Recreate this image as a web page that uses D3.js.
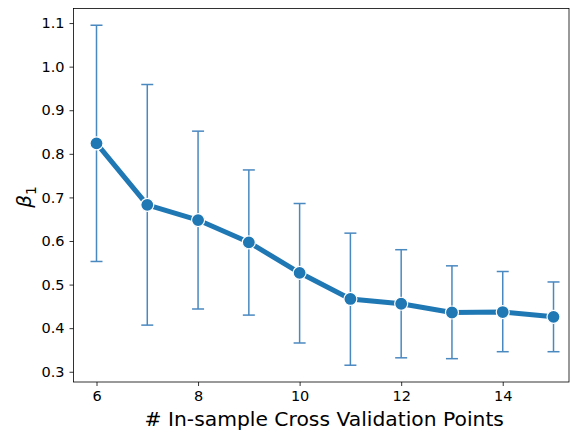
<!DOCTYPE html>
<html>
<head>
<meta charset="utf-8">
<script src="https://cdn.jsdelivr.net/npm/d3@7"></script>
<style>
  body { margin: 0; background: #fff; }
  svg { font-family: "DejaVu Sans", sans-serif; }
</style>
</head>
<body>
<svg id="chart" width="571" height="433"></svg>
<script>
// number of in-sample CV points
let points = [6, 7, 8, 9, 10, 11, 12, 13, 14, 15];
let beta = [0.824, 0.683, 0.648, 0.597, 0.527, 0.467, 0.456, 0.436, 0.437, 0.426];
let upper = [1.095, 0.959, 0.852, 0.763, 0.686, 0.618, 0.580, 0.543, 0.530, 0.506];
let lower = [0.553, 0.407, 0.444, 0.430, 0.366, 0.315, 0.332, 0.330, 0.346, 0.346];
let xTicks = [6, 8, 10, 12, 14];
let yTicks = [0.3, 0.4, 0.5, 0.6, 0.7, 0.8, 0.9, 1.0, 1.1];

let data = points.map((p, i) => ({ x: p, y: beta[i], lo: lower[i], hi: upper[i] }));

let margin = { top: 8.5, left: 73.5, right: 2, bottom: 51 };
let width = 571, height = 433;
let svg = d3.select("#chart");

let xScale = d3.scaleLinear().domain([5.547, 15.305])
  .range([margin.left, width - margin.right]);
let yScale = d3.scaleLinear().domain([0.2765, 1.1334])
  .range([height - margin.bottom, margin.top]);

// axes
let xAxis = d3.axisBottom(xScale).tickValues(xTicks).tickSize(4).tickPadding(5)
  .tickFormat(d3.format("d"));
let yAxis = d3.axisLeft(yScale).tickValues(yTicks).tickSize(4).tickPadding(5)
  .tickFormat(d3.format(".1f"));

let gx = svg.append("g")
  .attr("transform", `translate(0,${height - margin.bottom})`)
  .call(xAxis);
let gy = svg.append("g")
  .attr("transform", `translate(${margin.left},0)`)
  .call(yAxis);

[gx, gy].forEach((g) => {
  g.select(".domain").remove();
  g.selectAll("text").attr("font-size", 14.5).attr("fill", "#000")
    .attr("font-family", "DejaVu Sans");
  g.selectAll("line").attr("stroke", "#000").attr("stroke-width", 0.8);
});

// frame
svg.append("rect")
  .attr("x", margin.left).attr("y", margin.top)
  .attr("width", width - margin.right - margin.left)
  .attr("height", height - margin.bottom - margin.top)
  .attr("fill", "none").attr("stroke", "#000").attr("stroke-width", 0.8);

// error bars
let errColor = "#4a88c0";
let capW = 6;
let eb = svg.append("g");
eb.selectAll(".stem").data(data).enter().append("line")
  .attr("x1", (d) => xScale(d.x)).attr("x2", (d) => xScale(d.x))
  .attr("y1", (d) => yScale(d.lo)).attr("y2", (d) => yScale(d.hi))
  .attr("stroke", errColor).attr("stroke-width", 1.5);
["lo", "hi"].forEach((k) => {
  eb.selectAll(".cap-" + k).data(data).enter().append("line")
    .attr("x1", (d) => xScale(d.x) - capW).attr("x2", (d) => xScale(d.x) + capW)
    .attr("y1", (d) => yScale(d[k])).attr("y2", (d) => yScale(d[k]))
    .attr("stroke", errColor).attr("stroke-width", 1.5);
});

// line + markers
let line = d3.line().x((d) => xScale(d.x)).y((d) => yScale(d.y));
svg.append("path").datum(data)
  .attr("d", line).attr("fill", "none")
  .attr("stroke", "#1f77b4").attr("stroke-width", 5)
  .attr("stroke-linejoin", "round");

svg.selectAll(".dot").data(data).enter().append("circle")
  .attr("cx", (d) => xScale(d.x)).attr("cy", (d) => yScale(d.y))
  .attr("r", 6.5).attr("fill", "#1f77b4")
  .attr("stroke", "#fff").attr("stroke-width", 1.2);

// labels
svg.append("text")
  .attr("x", (margin.left + width - margin.right) / 2 + 3).attr("y", 426)
  .attr("text-anchor", "middle").attr("font-size", 20.3)
  .text("# In-sample Cross Validation Points");

svg.append("text")
  .attr("transform", "translate(31,197) rotate(-90)")
  .attr("text-anchor", "middle").attr("font-size", 20)
  .attr("font-style", "italic")
  .html('β<tspan font-size="14" font-style="normal" dy="5">1</tspan>');
</script>
</body>
</html>
